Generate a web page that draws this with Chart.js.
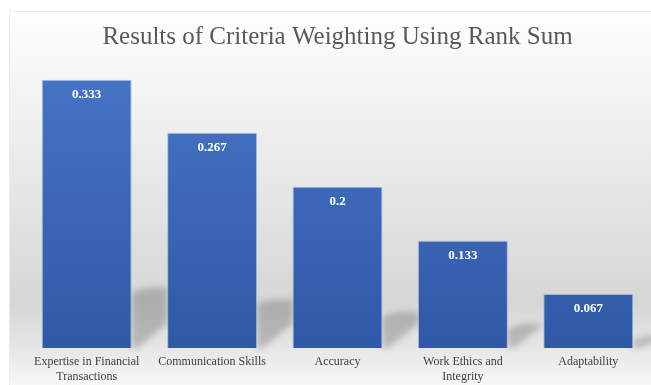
<!DOCTYPE html>
<html>
<head>
<meta charset="utf-8">
<script src="https://cdn.jsdelivr.net/npm/chart.js@4/dist/chart.umd.min.js"></script>
<style>
html,body{margin:0;padding:0;background:#fff;}
#wrap{width:651px;height:385px;position:relative;}
</style>
</head>
<body>
<div id="wrap"><canvas id="c" width="651" height="385"></canvas></div>
<script>
const categories = [
  ["Expertise in Financial", "Transactions"],
  "Communication Skills",
  "Accuracy",
  ["Work Ethics and", "Integrity"],
  "Adaptability"
];
const weights = [0.333, 0.267, 0.2, 0.133, 0.067];
const titleText = "Results of Criteria Weighting Using Rank Sum";
const SERIF = "Liberation Serif, DejaVu Serif, serif";

const bgPlugin = {
  id: 'bg',
  beforeDraw(chart) {
    const ctx = chart.ctx;
    const W = chart.width, H = chart.height;
    ctx.save();
    const g = ctx.createLinearGradient(0, 11, 0, H);
    g.addColorStop(0, '#fefefe');
    g.addColorStop(0.25, '#f2f2f2');
    g.addColorStop(0.55, '#e2e2e2');
    g.addColorStop(0.78, '#d6d6d6');
    g.addColorStop(0.9, '#e6e6e6');
    g.addColorStop(1, '#f7f7f7');
    ctx.fillStyle = '#ffffff';
    ctx.fillRect(0, 0, W, H);
    ctx.fillStyle = g;
    ctx.fillRect(9, 11, W - 9, H - 11);
    ctx.strokeStyle = '#ececec';
    ctx.lineWidth = 1;
    ctx.beginPath();
    ctx.moveTo(9.5, H);
    ctx.lineTo(9.5, 11.5);
    ctx.lineTo(W, 11.5);
    ctx.stroke();
    ctx.restore();
  },
  beforeDatasetsDraw(chart) {
    const ctx = chart.ctx;
    const meta = chart.getDatasetMeta(0);
    ctx.save();
    ctx.filter = 'blur(3px)';
    ctx.fillStyle = 'rgba(80,80,80,0.3)';
    meta.data.forEach((bar) => {
      const p = bar.getProps(['x', 'y', 'base', 'width'], true);
      const right = p.x + p.width / 2;
      const h = p.base - p.y;
      const sh = h * 0.225;
      const gap = 36;
      const diag = Math.min(25, sh);
      ctx.beginPath();
      ctx.moveTo(right, p.base);
      ctx.lineTo(right, p.base - sh + 5);
      ctx.quadraticCurveTo(right + 10, p.base - sh, right + 20, p.base - sh);
      ctx.lineTo(right + gap, p.base - sh);
      ctx.lineTo(right + gap, p.base - diag);
      ctx.lineTo(right + 6, p.base);
      ctx.closePath();
      ctx.fill();
    });
    ctx.restore();
  },
  afterDatasetsDraw(chart) {
    const ctx = chart.ctx;
    const meta = chart.getDatasetMeta(0);
    ctx.save();
    ctx.fillStyle = '#ffffff';
    ctx.font = 'bold 13px ' + SERIF;
    ctx.textAlign = 'center';
    ctx.textBaseline = 'middle';
    meta.data.forEach((bar, i) => {
      const p = bar.getProps(['x', 'y'], true);
      ctx.fillText(String(weights[i]), p.x, p.y + 15);
    });
    ctx.restore();
  }
};

const ctx = document.getElementById('c').getContext('2d');
new Chart(ctx, {
  type: 'bar',
  data: {
    labels: categories,
    datasets: [{
      data: weights,
      backgroundColor(context) {
        const chart = context.chart;
        const area = chart.chartArea;
        if (!area) return '#4472c4';
        const g = chart.ctx.createLinearGradient(0, area.top, 0, area.bottom);
        g.addColorStop(0, '#4874c6');
        g.addColorStop(1, '#2f59a6');
        return g;
      },
      borderColor: 'rgba(120,155,215,0.6)',
      borderWidth: 1,
      barPercentage: 0.717,
      categoryPercentage: 1.0
    }]
  },
  options: {
    responsive: false,
    animation: false,
    devicePixelRatio: 1,
    layout: { padding: { left: 24, right: 0, top: 0, bottom: -5 } },
    plugins: {
      legend: { display: false },
      tooltip: { enabled: false },
      title: {
        display: true,
        text: titleText,
        color: '#595959',
        font: { family: SERIF, size: 25, weight: 'normal' },
        padding: { top: 22, bottom: 14 }
      }
    },
    scales: {
      x: {
        grid: { display: false, drawTicks: false },
        border: { display: false },
        ticks: {
          color: '#404040',
          padding: 6,
          maxRotation: 0,
          autoSkip: false,
          font: { family: SERIF, size: 12, lineHeight: 1.25 }
        }
      },
      y: {
        display: false,
        min: 0,
        max: 0.35
      }
    }
  },
  plugins: [bgPlugin]
});
</script>
</body>
</html>
